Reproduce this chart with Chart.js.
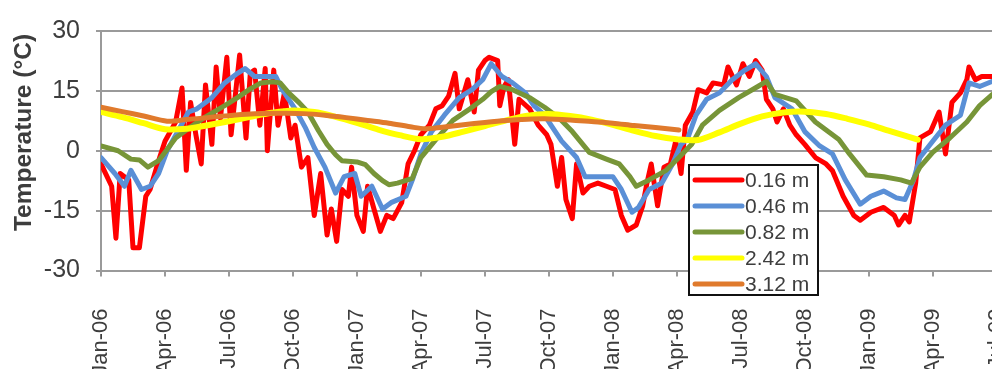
<!DOCTYPE html>
<html>
<head>
<meta charset="utf-8">
<title>Soil temperature at depth</title>
<script src="https://cdn.jsdelivr.net/npm/chart.js@4.4.0/dist/chart.umd.min.js"></script>
<style>
  html, body { margin: 0; padding: 0; overflow: hidden; background: #ffffff; }
  canvas { display: block; }
</style>
</head>
<body>
<canvas id="chart" width="1100" height="369"></canvas>
<script>
// Quarterly tick labels, one every 3 months starting at Jan-06 (month 0)
const tickLabels = ['Jan-06', 'Apr-06', 'Jul-06', 'Oct-06', 'Jan-07', 'Apr-07', 'Jul-07',
  'Oct-07', 'Jan-08', 'Apr-08', 'Jul-08', 'Oct-08', 'Jan-09', 'Apr-09', 'Jul-09'];

const seriesNames = ['0.16 m', '0.46 m', '0.82 m', '2.42 m', '3.12 m'];

// Months elapsed since 1 Jan 2006, and temperature (°C), per depth
const t016Months = [0, 0.5, 0.7, 0.9, 1.3, 1.5, 1.8, 2.1, 2.3, 2.7, 3.0, 3.5, 3.8, 4.0, 4.2, 4.45, 4.7, 4.9, 5.2, 5.4,
  5.6, 5.9, 6.1, 6.5, 6.8, 7.0, 7.2, 7.45, 7.7, 7.8, 8.1, 8.3, 8.6, 8.9, 9.1, 9.4, 9.7, 10.0, 10.3, 10.6,
  10.8, 11.05, 11.3, 11.6, 11.75, 12.0, 12.3, 12.5, 12.8, 13.1, 13.4, 13.7, 14.1, 14.4, 14.7, 15.0, 15.4, 15.7, 16.0, 16.3,
  16.6, 16.8, 17.2, 17.5, 17.7, 18.0, 18.2, 18.6, 18.7, 18.9, 19.1, 19.4, 19.6, 20.1, 20.5, 20.9, 21.1, 21.4, 21.6, 21.8,
  22.1, 22.3, 22.6, 22.9, 23.3, 23.7, 24.1, 24.4, 24.7, 25.1, 25.4, 25.6, 25.8, 26.1, 26.4, 26.7, 26.95, 27.2, 27.4, 27.75,
  28.0, 28.4, 28.7, 29.2, 29.4, 29.8, 30.1, 30.4, 30.7, 31.0, 31.2, 31.5, 31.7, 32.0, 32.3, 32.6, 33.0, 33.5, 34.0, 34.3,
  34.8, 35.3, 35.6, 36.1, 36.7, 37.2, 37.4, 37.7, 37.9, 38.2, 38.4, 38.9, 39.3, 39.6, 39.9, 40.3, 40.6, 40.7, 41.0, 41.3, 41.8];
const t016Temps = [-3.3, -8.9, -21.9, -5.7, -7.3, -24.3, -24.3, -11.4, -9.7, -2.5, 2.4, 7.2, 15.7, -4.9, 12.1, 4.0, -3.3, 16.5, 1.6, 21.0,
  8.1, 23.4, 4.0, 24.0, 3.2, 19.4, 20.2, 6.4, 20.6, 0.0, 20.2, 6.4, 14.5, 3.2, 6.4, -4.1, -1.7, -16.2, -5.7, -21.1,
  -14.6, -22.7, -9.7, -11.4, -4.1, -16.2, -20.2, -8.9, -14.6, -20.2, -16.2, -17.0, -13.0, -3.3, 0.0, 4.0, 6.4, 10.5, 11.3, 13.7,
  19.4, 10.5, 17.8, 9.7, 20.2, 22.6, 23.4, 22.6, 11.3, 16.1, 17.8, 1.6, 12.9, 10.5, 6.4, 4.0, 1.6, -8.9, -1.7, -12.2,
  -17.0, -3.3, -10.6, -8.9, -8.1, -8.9, -9.7, -16.2, -19.9, -18.6, -13.8, -8.1, -3.3, -13.8, -4.1, -3.3, 2.4, -5.7, 6.4, 9.7,
  15.3, 14.5, 17.0, 16.5, 21.0, 16.5, 21.8, 18.6, 22.6, 20.2, 12.9, 10.5, 7.2, 10.5, 6.4, 4.0, 1.6, -1.7, -3.3, -5.0,
  -11.4, -16.2, -17.4, -15.4, -14.2, -16.2, -18.6, -16.2, -17.8, -8.1, 3.2, 4.8, 9.7, -0.8, 12.1, 14.5, 17.8, 21.0, 17.8, 18.6, 18.6];

const t046Months = [0, 0.65, 1.1, 1.4, 1.9, 2.3, 2.7, 3.1, 3.6, 4.1, 4.5, 5.2, 5.8, 6.4, 6.75, 7.2, 8.2, 8.5, 9.1, 9.6,
  10.0, 10.5, 11.0, 11.4, 11.9, 12.2, 12.7, 13.2, 13.6, 14.3, 14.6, 15.0, 15.5, 16.1, 16.8, 17.4, 17.9, 18.3, 18.8, 19.3,
  19.9, 20.3, 20.8, 21.1, 21.6, 22.3, 22.7, 23.3, 24.0, 24.4, 24.9, 25.2, 25.7, 26.3, 26.8, 27.2, 27.5, 27.9, 28.4, 29.0,
  29.6, 30.2, 30.7, 31.2, 31.6, 32.4, 33.0, 33.7, 34.3, 34.9, 35.6, 36.1, 36.7, 37.3, 37.7, 38.1, 38.4, 39.0, 39.6, 40.3,
  40.7, 41.2, 41.8];
const t046Temps = [-1.7, -5.7, -8.9, -4.9, -9.7, -8.9, -5.7, 0.0, 4.8, 9.7, 10.5, 13.3, 17.0, 19.4, 20.6, 18.6, 18.6, 15.3, 10.5, 5.6,
  0.8, -4.1, -10.6, -6.5, -5.7, -11.4, -8.9, -14.6, -13.0, -11.4, -7.3, -0.8, 4.8, 8.9, 13.3, 15.3, 17.8, 21.8, 18.6, 17.0,
  14.5, 11.3, 8.9, 6.4, 2.4, -1.7, -6.5, -6.5, -6.5, -9.7, -15.4, -14.2, -9.7, -8.1, -3.3, 1.6, 3.0, 8.9, 12.9, 14.5,
  17.8, 20.2, 21.8, 18.6, 13.3, 10.5, 4.8, 1.2, -0.8, -7.3, -13.4, -11.4, -10.1, -11.8, -12.2, -7.3, -1.7, 2.4, 6.4, 8.9,
  17.0, 16.1, 17.4];

const t082Months = [0, 0.8, 1.4, 1.8, 2.2, 2.7, 3.0, 3.5, 4.1, 4.9, 5.8, 6.4, 7.0, 7.5, 8.0, 8.4, 8.8, 9.3, 9.7, 10.2,
  10.6, 11.0, 11.3, 12.0, 12.4, 12.8, 13.2, 13.5, 13.9, 14.6, 15.0, 15.7, 16.5, 17.3, 17.9, 18.3, 18.7, 19.3, 20.1, 20.8,
  21.5, 22.1, 22.9, 23.7, 24.3, 24.8, 25.1, 25.7, 26.5, 27.1, 27.7, 28.2, 29.0, 29.9, 30.8, 31.2, 31.6, 32.6, 33.5, 34.6,
  35.1, 35.9, 36.7, 37.5, 38.0, 38.4, 39.0, 39.8, 40.6, 41.2, 41.8];
const t082Temps = [1.2, 0.0, -2.1, -2.3, -4.1, -2.5, -0.4, 3.2, 5.6, 8.5, 11.3, 13.3, 15.5, 17.0, 17.3, 17.0, 14.5, 12.0, 9.7, 5.0,
  1.6, -1.0, -2.5, -2.8, -3.5, -5.7, -7.5, -8.5, -8.1, -6.9, -1.7, 2.8, 7.6, 10.5, 12.9, 14.8, 16.1, 15.3, 13.3, 10.9,
  8.1, 4.8, -0.4, -2.1, -3.3, -6.5, -8.9, -7.3, -4.9, -1.7, 1.6, 6.4, 10.1, 13.3, 16.1, 17.4, 14.1, 12.5, 7.2, 2.8,
  -0.8, -6.1, -6.5, -7.3, -8.1, -4.1, -0.4, 3.2, 7.2, 11.3, 14.1];

const t242Months = [0, 1, 2, 3, 4, 5, 6, 7, 8, 9, 10, 11, 12, 13, 14, 15, 16, 17, 18, 19,
  20, 21, 22, 23, 24, 25, 26, 27, 28, 29, 30, 31, 32, 33, 34, 35, 36, 37, 38, 38.3];
const t242Temps = [9.7, 8.4, 6.9, 5.4, 5.5, 6.4, 7.4, 8.5, 9.5, 10.1, 9.7, 8.5, 7.0, 5.3, 3.9, 2.9, 3.5, 4.8, 6.2, 7.6,
  8.8, 9.2, 8.7, 7.8, 6.5, 5.0, 3.7, 2.9, 2.7, 4.6, 6.8, 8.6, 9.6, 9.8, 9.2, 8.0, 6.6, 4.9, 3.3, 2.8];

const t312Months = [0, 1, 2, 3.1, 4, 5, 6, 7, 8, 8.5, 9.5, 10.5, 11.5, 12.5, 13.5, 14.5, 15.2, 16, 17, 18,
  19, 20, 20.8, 22, 23, 24, 25, 26, 27.1];
const t312Temps = [10.9, 9.8, 8.7, 7.4, 7.8, 8.3, 8.8, 9.2, 9.4, 9.4, 9.3, 8.9, 8.3, 7.6, 6.9, 6.0, 5.5, 5.9, 6.5, 7.1,
  7.6, 7.9, 8.0, 7.7, 7.3, 6.9, 6.3, 5.8, 5.2];

const seriesColors = ['#ff0000', '#5a8fd6', '#779538', '#ffff00', '#e07a2c'];

const FONT = "'Liberation Sans', Arial, sans-serif";
const TEXT_COLOR = '#3d3d3d';
const GRID_COLOR = '#9a9a9a';

function points(months, temps) {
  return months.map((m, i) => ({ x: m, y: temps[i] }));
}

const seriesData = [
  points(t016Months, t016Temps),
  points(t046Months, t046Temps),
  points(t082Months, t082Temps),
  points(t242Months, t242Temps),
  points(t312Months, t312Temps)
];

const datasets = seriesNames.map((name, i) => ({
  label: name,
  data: seriesData[i],
  borderColor: seriesColors[i],
  backgroundColor: seriesColors[i],
  borderWidth: i === 3 ? 6 : 5,
  pointRadius: 0,
  tension: i >= 3 ? 0.3 : 0,
  borderJoinStyle: 'round',
  borderCapStyle: 'round',
  fill: false,
  order: seriesNames.length - i   // deeper sensors are drawn on top
}));

// Vertical axis title, drawn rotated on the left
const yTitlePlugin = {
  id: 'yTitle',
  afterDraw(chart) {
    const ctx = chart.ctx;
    ctx.save();
    ctx.translate(24.5, 132.5);
    ctx.rotate(-Math.PI / 2);
    ctx.font = 'bold 24.5px ' + FONT;
    ctx.fillStyle = TEXT_COLOR;
    ctx.textAlign = 'center';
    ctx.textBaseline = 'middle';
    ctx.fillText('Temperature (°C)', 0, 0);
    ctx.restore();
  }
};

// Boxed legend inside the plot, lower right
const boxLegendPlugin = {
  id: 'boxLegend',
  afterDraw(chart) {
    const ctx = chart.ctx;
    const area = chart.chartArea;
    const left = area.left + 588, top = area.top + 134, w = 129, h = 130;
    ctx.save();
    ctx.fillStyle = '#ffffff';
    ctx.fillRect(left, top, w, h);
    ctx.lineWidth = 2;
    ctx.strokeStyle = '#111111';
    ctx.strokeRect(left, top, w, h);
    ctx.font = '21px ' + FONT;
    ctx.textBaseline = 'middle';
    ctx.textAlign = 'left';
    chart.data.datasets.forEach((ds, i) => {
      const y = top + 15 + i * 26;
      ctx.beginPath();
      ctx.lineCap = 'round';
      ctx.lineWidth = 5;
      ctx.strokeStyle = ds.borderColor;
      ctx.moveTo(left + 6, y);
      ctx.lineTo(left + 53, y);
      ctx.stroke();
      ctx.fillStyle = TEXT_COLOR;
      ctx.fillText(ds.label, left + 56, y + 1);
    });
    ctx.restore();
  }
};

new Chart(document.getElementById('chart'), {
  type: 'line',
  data: { datasets },
  options: {
    responsive: false,
    animation: false,
    events: [],
    layout: { padding: { top: 23, right: 18, bottom: 0, left: 0 } },
    plugins: {
      legend: { display: false },
      tooltip: { enabled: false }
    },
    scales: {
      x: {
        type: 'linear',
        min: 0,
        max: 46,
        afterBuildTicks(scale) {
          scale.ticks = tickLabels.map((_, i) => ({ value: i * 3 }));
        },
        afterFit(scale) { scale.height = 98.5; },
        ticks: {
          autoSkip: false,
          minRotation: 90,
          maxRotation: 90,
          padding: 32,
          color: TEXT_COLOR,
          font: { family: FONT, size: 22 },
          callback: (value) => tickLabels[Math.round(value / 3)]
        },
        grid: { drawOnChartArea: false, drawTicks: true, tickLength: 6, color: GRID_COLOR, lineWidth: 2 },
        border: { display: true, color: GRID_COLOR, width: 2 }
      },
      y: {
        type: 'linear',
        min: -30,
        max: 30,
        afterFit(scale) { scale.width = 101; },
        ticks: {
          stepSize: 15,
          padding: 16,
          color: TEXT_COLOR,
          font: { family: FONT, size: 25 }
        },
        grid: { color: GRID_COLOR, lineWidth: 2, tickLength: 5 },
        border: { display: true, color: GRID_COLOR, width: 2 }
      }
    }
  },
  plugins: [yTitlePlugin, boxLegendPlugin]
});
</script>
</body>
</html>
